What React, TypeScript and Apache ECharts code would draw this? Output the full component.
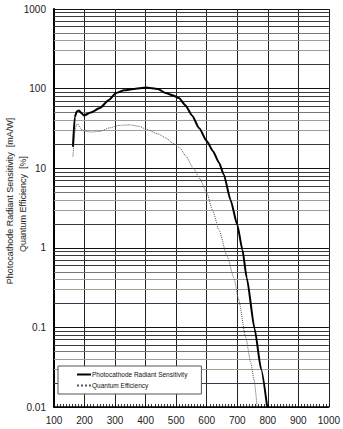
import React, { useEffect, useRef } from "react";
import * as echarts from "echarts";

const radiantWl = [162, 168, 175, 182, 190, 198, 220, 250, 280, 303, 330, 360, 401, 440, 466, 490, 509, 530, 552, 575, 600, 620, 640, 656, 678, 700, 717, 731, 757, 778, 798];
const radiantVal = [18.6, 44, 52, 53, 49, 46, 50, 57, 72, 88, 95, 99, 103, 99, 88, 82, 76, 62, 46, 32, 22, 16.5, 11.8, 8.3, 4.0, 1.95, 0.94, 0.42, 0.095, 0.03, 0.01];

const qeWl = [162, 168, 173, 178, 186, 195, 220, 250, 280, 314, 347, 380, 401, 440, 466, 490, 512, 530, 559, 578, 600, 620, 640, 667, 689, 705, 727, 745, 755, 765];
const qeVal = [14, 28, 35, 36, 32, 29.5, 28.5, 29, 32, 34.5, 35, 33.5, 31, 27, 24, 20.5, 18, 14.5, 9.6, 7.3, 4.9, 2.9, 1.68, 0.78, 0.42, 0.22, 0.077, 0.035, 0.022, 0.01];

const xTicks = [100, 200, 300, 400, 500, 600, 700, 800, 900, 1000];
const yTicks = [0.01, 0.1, 1, 10, 100, 1000];
const decadeBases = [0.01, 0.1, 1, 10, 100];
const minorMultipliers = [2, 3, 4, 5, 6, 7, 8, 9];

const seriesNames = ["Photocathode Radiant Sensitivity", "Quantum Efficiency"];
const yTitle1 = "Photocathode Radiant Sensitivity  [mA/W]";
const yTitle2 = "Quantum Efficiency  [%]";

export default function App() {
  const ref = useRef<HTMLDivElement>(null);
  useEffect(() => {
    if (!ref.current) return;
    const chart = echarts.init(ref.current, undefined, { renderer: "svg" });
    const minorColor = (m: number) => (m === 3 || m === 4 ? "#a69d8e" : m === 5 ? "#777" : "#3a3a3a");
    const minorLines: any[] = [];
    decadeBases.forEach((b) =>
      minorMultipliers.forEach((m) =>
        minorLines.push({ yAxis: Number((b * m).toPrecision(3)), lineStyle: { color: minorColor(m), width: 1, type: "solid" } })
      )
    );
    const font = "Liberation Sans, Arial, sans-serif";
    chart.setOption({
      animation: false,
      backgroundColor: "#ffffff",
      textStyle: { fontFamily: font },
      grid: { left: 54, top: 9, right: 12, bottom: 22, containLabel: false },
      xAxis: {
        type: "value",
        min: 100,
        max: 1000,
        interval: 100,
        axisLine: { show: true, onZero: false, lineStyle: { color: "#000", width: 1.5 } },
        axisTick: { show: true, inside: true, length: 3, lineStyle: { color: "#000" } },
        minorTick: { show: true, splitNumber: 10, length: 3, lineStyle: { color: "#000", width: 0.8 } },
        splitLine: { show: true, lineStyle: { color: "#222", width: 1 } },
        axisLabel: {
          fontSize: 10,
          color: "#222",
          margin: 8,
          fontFamily: font,
          formatter: (v: number) => (xTicks.includes(v) ? String(v) : ""),
        },
      },
      yAxis: {
        type: "log",
        logBase: 10,
        min: 0.01,
        max: 1000,
        axisLine: { show: true, lineStyle: { color: "#000", width: 2 } },
        axisTick: { show: false },
        splitLine: { show: true, lineStyle: { color: "#111", width: 1 } },
        axisLabel: {
          fontSize: 10,
          color: "#222",
          margin: 8,
          fontFamily: font,
          formatter: (v: number) => {
            const n = Number(Number(v).toPrecision(3));
            return yTicks.includes(n) ? String(n) : "";
          },
        },
      },
      legend: {
        orient: "vertical",
        left: 58,
        top: 366,
        padding: [5, 14, 5, 18],
        itemGap: 4,
        itemWidth: 14,
        itemHeight: 7,
        borderColor: "#555",
        borderWidth: 1,
        backgroundColor: "#fff",
        itemStyle: { opacity: 0 },
        textStyle: { fontSize: 6.5, color: "#111", fontFamily: font, padding: [0, 0, 0, -4] },
        data: seriesNames,
      },
      graphic: [
        {
          type: "text",
          x: 10,
          y: 201,
          rotation: Math.PI / 2,
          style: { text: yTitle1, fontSize: 9, fill: "#222", fontFamily: font, textAlign: "center", textVerticalAlign: "middle" },
        },
        {
          type: "text",
          x: 23,
          y: 204,
          rotation: Math.PI / 2,
          style: { text: yTitle2, fontSize: 9, fill: "#222", fontFamily: font, textAlign: "center", textVerticalAlign: "middle" },
        },
      ],
      series: [
        {
          name: seriesNames[0],
          type: "line",
          data: radiantWl.map((w, i) => [w, radiantVal[i]]),
          smooth: 0.2,
          smoothMonotone: "x",
          showSymbol: false,
          symbol: "none",
          lineStyle: { color: "#000", width: 2 },
          itemStyle: { color: "#000" },
          z: 5,
          markLine: {
            silent: true,
            symbol: ["none", "none"],
            label: { show: false },
            lineStyle: { color: "#444", width: 1, type: "solid" },
            data: minorLines,
            z: 1,
          },
        },
        {
          name: seriesNames[1],
          type: "line",
          data: qeWl.map((w, i) => [w, qeVal[i]]),
          smooth: 0.2,
          smoothMonotone: "x",
          showSymbol: false,
          symbol: "none",
          lineStyle: { color: "#555", width: 1, type: "dotted" },
          itemStyle: { color: "#555" },
          z: 4,
        },
      ],
    });
    return () => chart.dispose();
  }, []);
  return <div ref={ref} style={{ position: "absolute", left: 0, top: 0, width: 343, height: 429 }} />;
}
